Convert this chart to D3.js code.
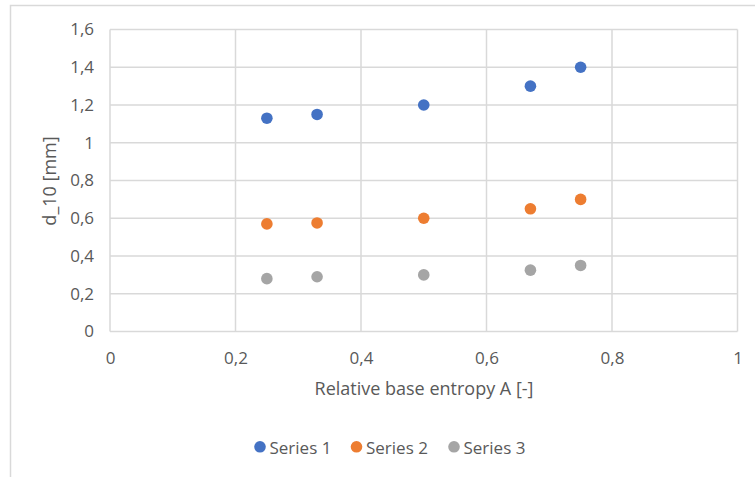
<!DOCTYPE html>
<html><head><meta charset="utf-8">
<script src="https://cdn.jsdelivr.net/npm/d3@7"></script>
<style>body{margin:0;background:#fff}svg{display:block}text{font-family:"Open Sans","Liberation Sans",sans-serif;fill:#595959}</style>
</head><body><svg id="c" width="755" height="477"></svg>
<script>
const xValues = [0.25, 0.33, 0.5, 0.67, 0.75];
const series1 = [1.13, 1.15, 1.2, 1.3, 1.4];
const series2 = [0.57, 0.575, 0.6, 0.65, 0.7];
const series3 = [0.28, 0.29, 0.3, 0.325, 0.35];
const seriesNames = ["Series 1", "Series 2", "Series 3"];
const colors = ["#4472C4", "#ED7D31", "#A5A5A5"];
const xTicks = [0, 0.2, 0.4, 0.6, 0.8, 1];
const yTicks = [0, 0.2, 0.4, 0.6, 0.8, 1, 1.2, 1.4, 1.6];

const svg = d3.select("#c");
const fmt = d => String(d).replace(".", ",");
const L = 110, R = 737.5, T = 29.5, B = 331.5;
const x = d3.scaleLinear().domain([0, 1]).range([L, R]);
const y = d3.scaleLinear().domain([0, 1.6]).range([B, T]);

// outer chart border
svg.append("rect").attr("x", 10.5).attr("y", 5.5).attr("width", 760).attr("height", 480)
  .attr("fill", "none").attr("stroke", "#d9d9d9").attr("stroke-width", 1.5);

// gridlines
const g = svg.append("g");
g.selectAll("line.h").data(yTicks).join("line")
  .attr("x1", L).attr("x2", R).attr("y1", d => y(d)).attr("y2", d => y(d))
  .attr("stroke", "#d9d9d9").attr("stroke-width", 1.5);
g.selectAll("line.v").data(xTicks).join("line").attr("class","v")
  .attr("x1", d => x(d)).attr("x2", d => x(d)).attr("y1", T).attr("y2", B)
  .attr("stroke", "#d9d9d9").attr("stroke-width", 1.5);

// axes with d3
const yAxis = d3.axisLeft(y).tickValues(yTicks).tickFormat(fmt).tickSize(0).tickPadding(16);
const ya = svg.append("g").attr("transform", `translate(${L},0)`).call(yAxis);
ya.select(".domain").remove();

const xAxis = d3.axisBottom(x).tickValues(xTicks).tickFormat(fmt).tickSize(0).tickPadding(20);
const xa = svg.append("g").attr("transform", `translate(0,${B})`).call(xAxis);
xa.select(".domain").remove();
svg.selectAll(".tick text").attr("font-family", null).attr("font-size", null)
  .style("font-family", "'Open Sans', sans-serif").style("font-size", "17px").attr("fill", "#595959");

// axis titles
svg.append("text").attr("x", 424).attr("y", 394.5).attr("text-anchor", "middle")
  .style("font-size", "18px").text("Relative base entropy A [-]");
svg.append("text").attr("transform", "translate(56,181) rotate(-90)").attr("text-anchor", "middle")
  .style("font-size", "18px").text("d_10 [mm]");

// points
const all = [series1, series2, series3];
all.forEach((s, i) => {
  svg.append("g").selectAll("circle").data(s).join("circle")
    .attr("cx", (d, j) => x(xValues[j])).attr("cy", d => y(d)).attr("r", 5.8)
    .attr("fill", colors[i]);
});

// legend
const legX = [260, 356.5, 454];
seriesNames.forEach((n, i) => {
  svg.append("circle").attr("cx", legX[i]).attr("cy", 446.8).attr("r", 5.8).attr("fill", colors[i]);
  svg.append("text").attr("x", legX[i] + 9.5).attr("y", 454).style("font-size", "17px").text(n);
});
</script></body></html>
